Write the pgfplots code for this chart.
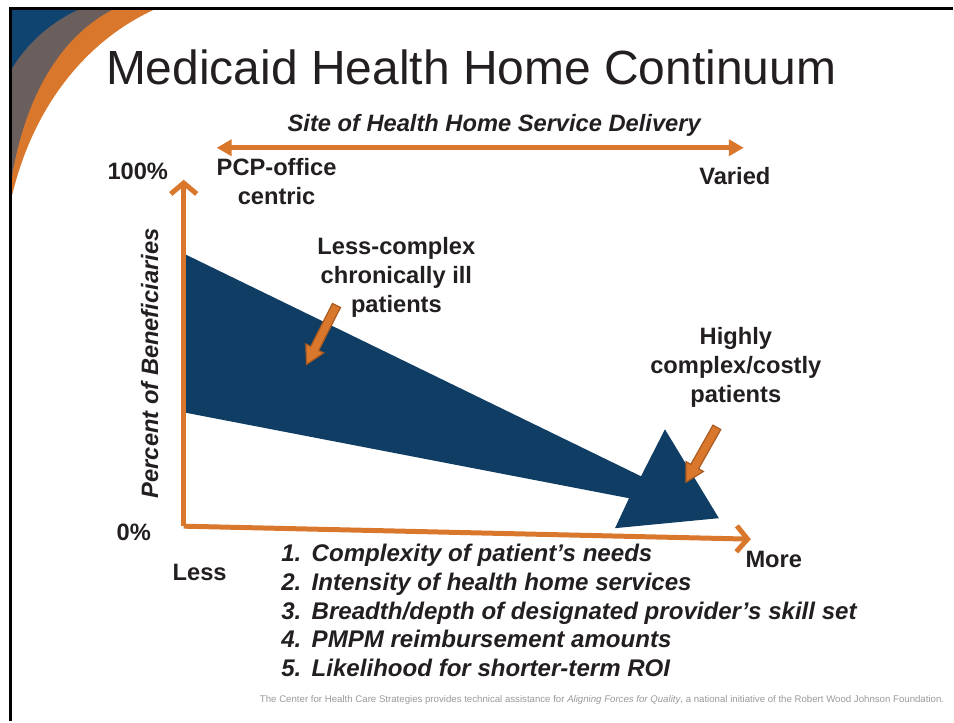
\documentclass[border=0pt]{standalone}
\usepackage{pgfplots}
\pgfplotsset{compat=1.18}
\usetikzlibrary{arrows.meta}
\usepackage{fontspec}
\setmainfont{Liberation Sans}
\definecolor{navy}{HTML}{0F3D63}
\definecolor{orng}{HTML}{D9782D}
\definecolor{orngdk}{HTML}{A85A20}
\definecolor{swgrey}{HTML}{6B5F5E}
\definecolor{swblue}{HTML}{0F4470}
\definecolor{txt}{HTML}{231F20}
\begin{document}
\begin{tikzpicture}[x=1bp,y=1bp]
\begin{axis}[
  width=954bp, height=722bp, scale only axis,
  xmin=0, xmax=954, ymin=0, ymax=722, y dir=reverse,
  hide axis, clip=false,
]
% bounding box
\path (axis cs:0,0) rectangle (axis cs:954,722);
% corner swoosh
\fill[orng] (axis cs:10,8) -- (axis cs:158,8) .. controls (axis cs:85,40) and (axis cs:30,110) .. (axis cs:10,205) -- cycle;
\fill[swgrey] (axis cs:10,8) -- (axis cs:116,8) .. controls (axis cs:60,35) and (axis cs:22,100) .. (axis cs:10,190) -- cycle;
\fill[swblue] (axis cs:10,8) -- (axis cs:82,8) .. controls (axis cs:50,22) and (axis cs:25,45) .. (axis cs:10,72) -- cycle;
% frame
\draw[black, line width=3bp] (axis cs:10.5,722) -- (axis cs:10.5,8.5) -- (axis cs:954,8.5);

% title
\node[anchor=base west, text=txt, inner sep=0pt] at (axis cs:106,85) {\fontsize{48.2}{54}\selectfont Medicaid Health Home Continuum};

% the band
\addplot[fill=navy, draw=none] coordinates {
 (184,254) (642,477) (666,430) (720,519) (616,529) (630,499) (184,413)} -- cycle;

% axes arrows
\addplot[orng, line width=5bp, -{Straight Barb[length=11bp,width=26bp,line width=5bp]}] coordinates {(184,527) (752,540)};
\addplot[orng, line width=5bp, -{Straight Barb[length=11bp,width=26bp,line width=5bp]}] coordinates {(184,527) (184,180)};
% top double arrow
\addplot[orng, line width=5bp, {Triangle[length=15bp,width=16bp]}-{Triangle[length=15bp,width=16bp]}] coordinates {(217,148) (745,148)};

% small block arrows
\addplot[fill=orng, draw=orngdk, line width=1.2bp] coordinates {
 (341.0,308.0) (319.2,351.0) (324.1,353.5) (307,365) (306.3,344.5) (311.2,347.0) (333.0,304.0)} -- cycle;
\addplot[fill=orng, draw=orngdk, line width=1.2bp] coordinates {
 (721.9,430.2) (699.7,469.5) (704.5,472.2) (687,483) (687.1,462.4) (691.9,465.1) (714.1,425.8)} -- cycle;

% texts
\tikzset{lbl/.style={text=txt, font=\fontsize{23.8}{29}\selectfont\bfseries, inner sep=0pt, align=center}}
\node[lbl] at (axis cs:495,126) {\itshape Site of Health Home Service Delivery};
\node[lbl] at (axis cs:138,172) {100\%};
\node[lbl] at (axis cs:134,533) {0\%};
\node[lbl] at (axis cs:200,573) {Less};
\node[lbl] at (axis cs:775,560) {More};
\node[lbl] at (axis cs:277,182) {PCP-office\\centric};
\node[lbl] at (axis cs:736,176) {Varied};
\node[lbl] at (axis cs:397,278) {Less-complex\\chronically ill\\patients};
\node[lbl] at (axis cs:737,368) {Highly\\complex/costly\\patients};
\node[lbl, rotate=90] at (axis cs:150,364) {\itshape Percent of Beneficiaries};

\tikzset{itm/.style={text=txt, font=\fontsize{24.2}{29}\selectfont\bfseries\itshape, inner sep=0pt, anchor=base west}}
\node[itm, anchor=base east] at (axis cs:302,562) {1.};
\node[itm] at (axis cs:312,562) {Complexity of patient’s needs};
\node[itm, anchor=base east] at (axis cs:302,591) {2.};
\node[itm] at (axis cs:312,591) {Intensity of health home services};
\node[itm, anchor=base east] at (axis cs:302,620) {3.};
\node[itm] at (axis cs:312,620) {Breadth/depth of designated provider’s skill set};
\node[itm, anchor=base east] at (axis cs:302,649) {4.};
\node[itm] at (axis cs:312,649) {PMPM reimbursement amounts};
\node[itm, anchor=base east] at (axis cs:302,678) {5.};
\node[itm] at (axis cs:312,678) {Likelihood for shorter-term ROI};

\node[text=gray!80, font=\fontsize{9.7}{10}\selectfont, inner sep=0pt, anchor=base] at (axis cs:603,704) {The Center for Health Care Strategies provides technical assistance for \textit{Aligning Forces for Quality}, a national initiative of the Robert Wood Johnson Foundation.};
\end{axis}
\end{tikzpicture}
\end{document}
